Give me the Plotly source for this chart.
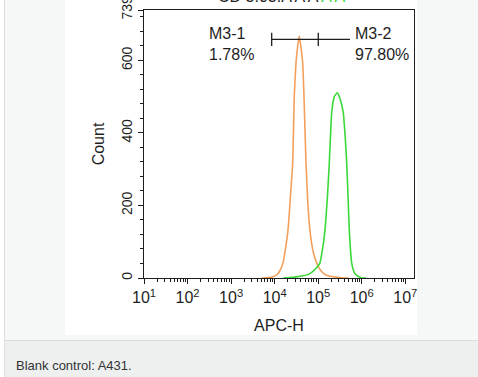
import plotly.graph_objects as go

# ---- data ----
orange_log = [3.70, 3.85, 3.95, 4.05, 4.12, 4.19, 4.25, 4.307, 4.36, 4.415, 4.45, 4.49, 4.53, 4.566,
              4.60, 4.644, 4.674, 4.72, 4.76, 4.81, 4.88, 4.966, 5.05, 5.15, 5.30, 5.45, 5.57, 5.70]
orange_cnt = [0, 1, 3, 9, 20, 41, 82, 132, 220, 317, 500, 593, 640, 667,
              640, 593, 500, 317, 210, 132, 75, 41, 22, 10, 4, 2, 0, 0]

green_log = [4.20, 4.35, 4.50, 4.65, 4.78, 4.88, 4.96, 5.04, 5.10, 5.156, 5.21, 5.255, 5.31, 5.37,
             5.439, 5.50, 5.576, 5.62, 5.655, 5.69, 5.714, 5.77, 5.83, 5.90, 5.96, 6.00, 6.10]
green_cnt = [0, 1, 3, 6, 10, 18, 28, 41, 80, 132, 220, 317, 456, 500,
             511, 495, 456, 390, 317, 210, 132, 41, 15, 6, 2, 0, 0]

gate_log = [3.932, 5.002, 5.73]      # M3-1 start, M3-1/M3-2 boundary, M3-2 end (shown)
gate_count = 658
gate_cap = 18
gate_names = ["M3-1", "M3-2"]
gate_pcts = ["1.78%", "97.80%"]
gate_label_log = [2.45, 5.792]
gate_label_count = 644

x_tick_exp = [1, 2, 3, 4, 5, 6, 7]
y_ticks = [0, 200, 400, 600, 739]
caption = "Blank control: A431."
# title that is cut off by the top edge of the picture (only its lowest pixels show)
top_text = "CD 3.03.A A A "
top_text_green = "A A"

# ---- layout geometry ----
W, H = 478, 377
L, R, T, B = 144, 64, 10, 99
PW, PH = W - L - R, H - T - B


def px(x):
    return (x - L) / PW


def py(y):
    return 1 - (y - T) / PH


FONT = "Liberation Sans, Arial, Helvetica, sans-serif"
ORANGE = "#f3a05c"
GREEN = "#3ad83a"
INK = "#1e1e1e"

fig = go.Figure()
fig.add_trace(go.Scatter(x=[10 ** v for v in orange_log], y=orange_cnt, mode="lines",
                         line=dict(color=ORANGE, width=1.6, shape="spline", smoothing=0.4),
                         showlegend=False, hoverinfo="skip"))
fig.add_trace(go.Scatter(x=[10 ** v for v in green_log], y=green_cnt, mode="lines",
                         line=dict(color=GREEN, width=1.6, shape="spline", smoothing=0.4),
                         showlegend=False, hoverinfo="skip"))

# gate bar
gx = [10 ** gate_log[0], 10 ** gate_log[2], None,
      10 ** gate_log[0], 10 ** gate_log[0], None,
      10 ** gate_log[1], 10 ** gate_log[1]]
gy = [gate_count, gate_count, None,
      gate_count - gate_cap, gate_count + gate_cap, None,
      gate_count - gate_cap, gate_count + gate_cap]
fig.add_trace(go.Scatter(x=gx, y=gy, mode="lines", line=dict(color=INK, width=1.3),
                         showlegend=False, hoverinfo="skip", cliponaxis=False))

shapes = [
    dict(type="rect", xref="paper", yref="paper", x0=px(0), x1=px(4), y0=py(0), y1=py(H),
         fillcolor="#ffffff", line=dict(width=0), layer="below"),
    dict(type="rect", xref="paper", yref="paper", x0=px(65), x1=px(417), y0=py(0), y1=py(335),
         fillcolor="#ffffff", line=dict(width=0), layer="below"),
    dict(type="rect", xref="paper", yref="paper", x0=px(4.5), x1=px(W), y0=py(340.5), y1=py(H),
         fillcolor="#eeefef", line=dict(width=0), layer="below"),
    dict(type="line", xref="paper", yref="paper", x0=px(4.5), x1=px(W), y0=py(340.5), y1=py(340.5),
         line=dict(color="#dcdede", width=1), layer="below"),
    dict(type="line", xref="paper", yref="paper", x0=px(4.5), x1=px(4.5), y0=py(0), y1=py(H),
         line=dict(color="#dcdede", width=1), layer="below"),
]

annotations = []
for name, pct, lx in zip(gate_names, gate_pcts, gate_label_log):
    annotations.append(dict(x=lx, y=gate_label_count, xref="x", yref="y", xanchor="left",
                            yanchor="middle", align="left", showarrow=False,
                            text=f"{name}<br>{pct}", font=dict(family=FONT, size=16, color=INK)))
annotations.append(dict(x=px(14), y=py(365), xref="paper", yref="paper", xanchor="left",
                        yanchor="middle", showarrow=False, text=caption,
                        font=dict(family=FONT, size=13, color="#333333")))
annotations.append(dict(x=px(216), y=py(7), xref="paper", yref="paper", xanchor="left",
                        yanchor="bottom", showarrow=False,
                        text=f"{top_text}<span style='color:{GREEN}'>{top_text_green}</span>",
                        font=dict(family=FONT, size=16, color=INK)))

minor_x = [m * 10 ** e for e in range(1, 7) for m in range(2, 10)]

fig.update_layout(
    width=W, height=H, margin=dict(l=L, r=R, t=T, b=B, autoexpand=False),
    paper_bgcolor="#f6f7f7", plot_bgcolor="#ffffff",
    font=dict(family=FONT, color=INK),
    shapes=shapes, annotations=annotations, showlegend=False,
    xaxis=dict(type="log", range=[1, 7.2], automargin=False, showline=True, linecolor=INK,
               linewidth=1.4, mirror=True, ticks="outside", ticklen=5, tickwidth=1.3, tickcolor=INK,
               tickvals=[10 ** e for e in x_tick_exp],
               ticktext=[f"10<sup>{e}</sup>" for e in x_tick_exp],
               tickfont=dict(family=FONT, size=16, color=INK),
               showgrid=False, zeroline=False,
               minor=dict(ticks="outside", ticklen=3, tickwidth=1, tickcolor=INK,
                          tickvals=minor_x, showgrid=False),
               title=dict(text="APC-H", font=dict(family=FONT, size=16, color=INK), standoff=14)),
    yaxis=dict(range=[0, 739], autorange=False, automargin=False, showline=True, linecolor=INK,
               linewidth=1.4, mirror=True, ticks="outside", ticklen=5, tickwidth=1.3, tickcolor=INK,
               tickvals=y_ticks, ticktext=[str(v) for v in y_ticks], tickangle=-90,
               ticklabeloverflow="allow",
               tickfont=dict(family=FONT, size=14, color=INK),
               showgrid=False, zeroline=False,
               minor=dict(ticks="outside", ticklen=3, tickwidth=1, tickcolor=INK,
                          dtick=40, tick0=0, showgrid=False),
               title=dict(text="Count", font=dict(family=FONT, size=16, color=INK), standoff=10)),
)

fig.write_html("out.html", config={"displayModeBar": False},
               post_script="document.body.style.margin='0';document.body.style.padding='0';"
                           "document.documentElement.style.overflow='hidden';")
